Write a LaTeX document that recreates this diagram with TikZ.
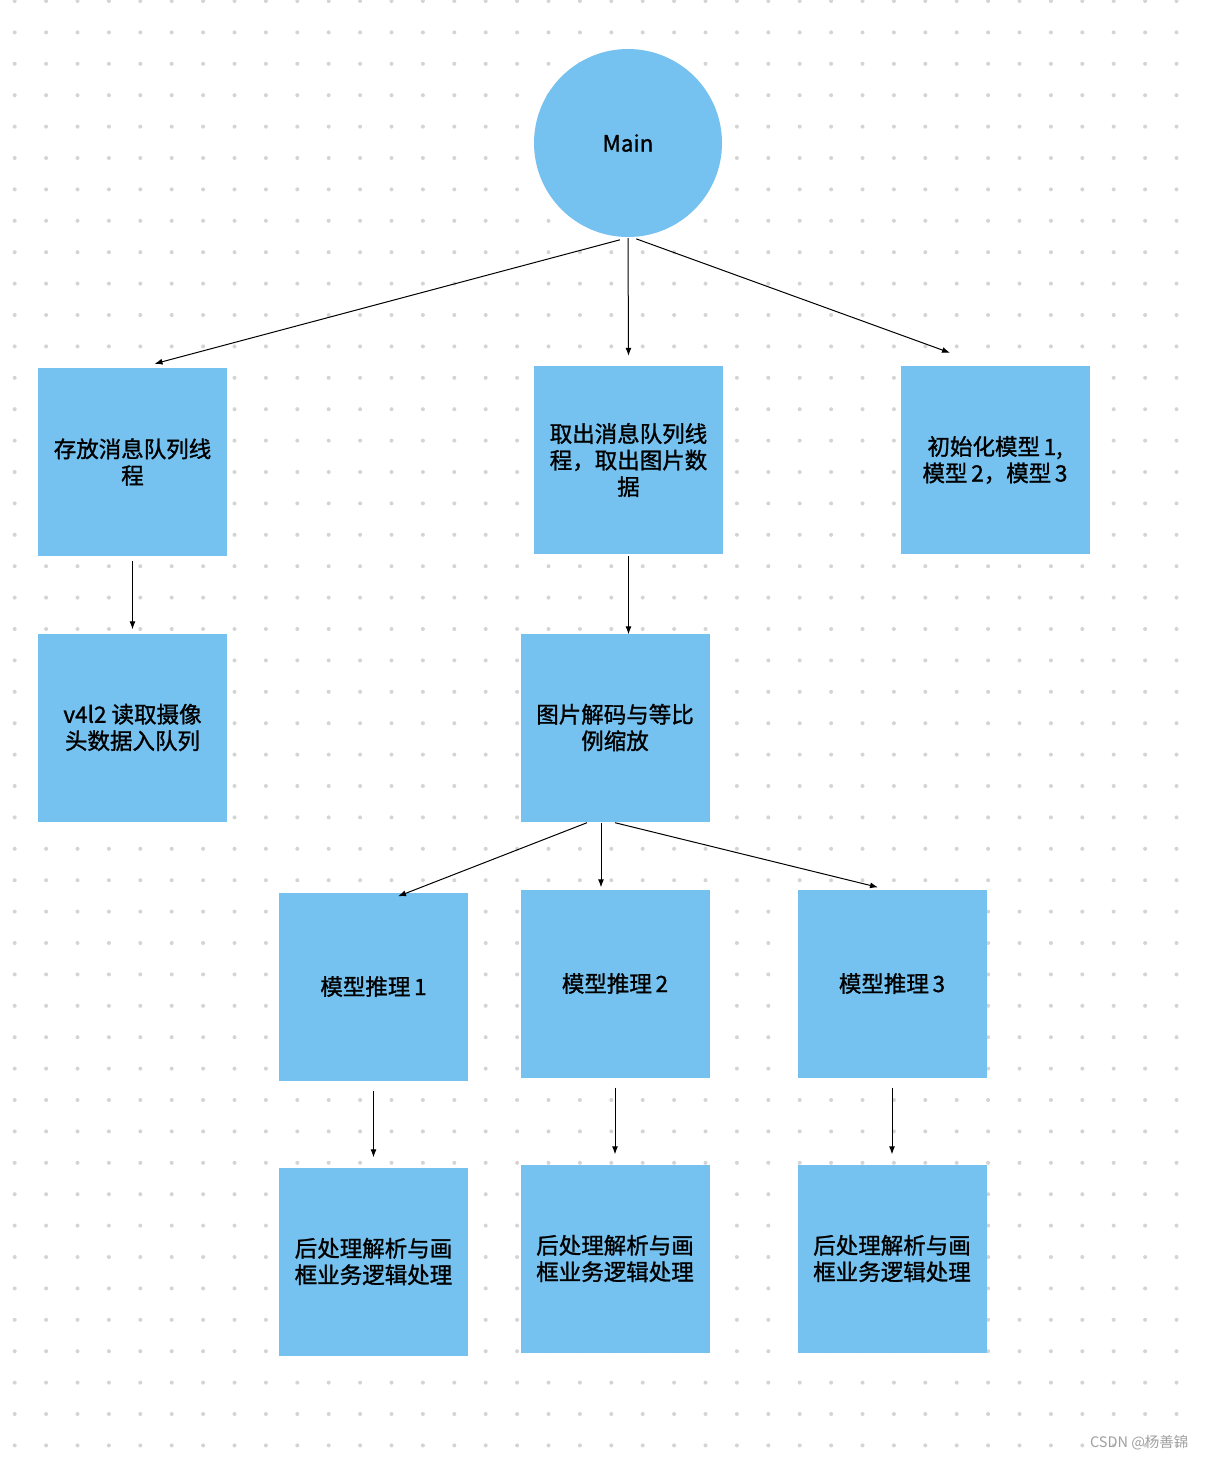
\documentclass[tikz,border=0pt]{standalone}
\usepackage{fontspec}
\setmainfont{Noto Sans CJK SC}
\newfontfamily\boxfont[FakeBold=1.2]{Noto Sans CJK SC}
\newfontfamily\wmfont{Noto Sans CJK SC}
\usetikzlibrary{arrows.meta,calc}
\definecolor{boxblue}{HTML}{75C2F0}
\definecolor{dotgray}{HTML}{D4D4D4}
\definecolor{wmgray}{HTML}{A0A0A0}
\tikzset{
  blk/.style={rectangle,fill=boxblue,draw=none,minimum width=189pt,minimum height=188pt,
    align=center,font=\boxfont\fontsize{22.5}{26.5}\selectfont,text=black,inner sep=0pt},
  mainc/.style={circle,fill=boxblue,draw=none,minimum size=188pt,font=\boxfont\fontsize{22.5}{24}\selectfont,inner sep=0pt},
  conn/.style={-{Latex[length=8pt,width=6pt]},line width=1pt,black}
}
\begin{document}
\begin{tikzpicture}[x=1pt,y=-1pt]
\useasboundingbox (0,0) rectangle (1206,1460);
\fill[white] (0,0) rectangle (1206,1460);
\foreach \i in {0,...,37}{
  \foreach \j in {0,...,46}{
    \fill[dotgray] ({14.7+31.4*\i},{1+31.4*\j}) circle (2pt);
  }
}
\node[mainc] (main) at (628,143) {Main};
\node[blk] (b1) at (132.5,462) {存放消息队列线\\程};
\node[blk] (b2) at (628.5,460) {取出消息队列线\\程，取出图片数\\据};
\node[blk] (b3) at (995,460) {初始化模型\,1,\\模型\,2，模型\,3};
\node[blk] (b4) at (132.5,727.5) {v4l2 读取摄像\\头数据入队列};
\node[blk] (b5) at (615,727.5) {图片解码与等比\\例缩放};
\node[blk] (b6) at (373.5,986.5) {模型推理\,1};
\node[blk] (b7) at (615,983.5) {模型推理\,2};
\node[blk] (b8) at (892,983.5) {模型推理\,3};
\node[blk] (b9) at (373.5,1261.5) {后处理解析与画\\框业务逻辑处理};
\node[blk] (b10) at (615,1258.5) {后处理解析与画\\框业务逻辑处理};
\node[blk] (b11) at (892,1258.5) {后处理解析与画\\框业务逻辑处理};
\node[font=\wmfont\fontsize{14.5}{16}\selectfont,text=wmgray,anchor=east] (wm) at (1192,1443) {CSDN @杨善锦};
% connectors
\draw[conn] ($(main.265)+(0,3)$) -- ($(b1.north)+(22,-4)$);
\draw[conn] ($(main.south)+(0,1)$) -- ($(b2.north)+(0,-10)$);
\draw[conn] ($(main.275)+(0,2)$) -- ($(b3.north)+(-45,-13)$);
\draw[conn] ($(b1.south)+(0,5)$) -- ($(b4.north)+(0,-4)$);
\draw[conn] ($(b2.south)+(0,2)$) -- ($(b5.north)+(13.5,1)$);
\draw[conn] ($(b5.south)+(-28,1)$) -- ($(b6.north)+(24.5,4)$);
\draw[conn] ($(b5.south)+(-14,1)$) -- ($(b7.north)+(-14,-2)$);
\draw[conn] ($(b5.south)+(0,1)$) -- ($(b8.north)+(-14,-2)$);
\draw[conn] ($(b6.south)+(0,10)$) -- ($(b9.north)+(0,-10)$);
\draw[conn] ($(b7.south)+(0,10)$) -- ($(b10.north)+(0,-10)$);
\draw[conn] ($(b8.south)+(0,10)$) -- ($(b11.north)+(0,-10)$);
\end{tikzpicture}
\end{document}
